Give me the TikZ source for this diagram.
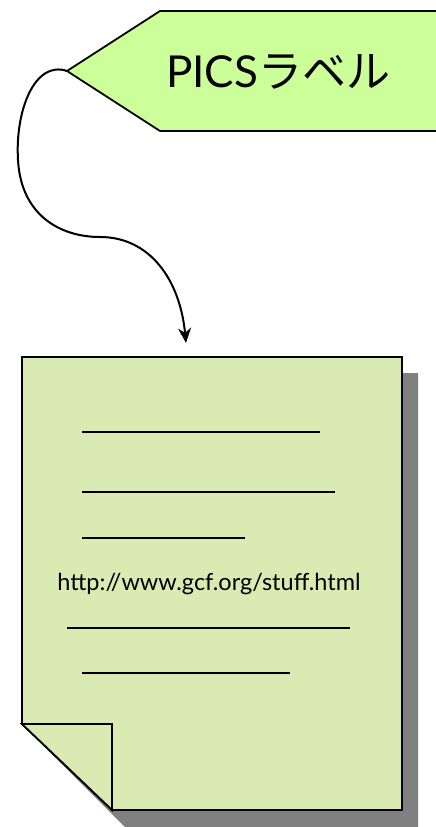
\documentclass[tikz,border=0pt]{standalone}
\usepackage{fontspec}
\usetikzlibrary{arrows.meta}
\setmainfont{Lato}
\newfontfamily\cjk{Noto Sans CJK JP}
\definecolor{labelgreen}{HTML}{CCFF99}
\definecolor{docgreen}{HTML}{D9EAB3}
\definecolor{shadowgray}{HTML}{808080}
\begin{document}
\begin{tikzpicture}[x=1pt,y=-1pt,
  edge/.style={draw=black,line width=1.8pt,line join=miter},
  textline/.style={draw=black,line width=1.6pt},
  conn/.style={draw=black,line width=2pt,-{Stealth[length=15pt,width=13pt]}}]
\useasboundingbox (0,0) rectangle (436,827);
% label
\draw[edge,fill=labelgreen] (440,11) -- (160,11) -- (67,71) -- (160,131) -- (440,131);
\coordinate (tip) at (67,71);
\node[font=\fontsize{44}{48}\selectfont] (lbl) at (278,72) {PICS{\cjk ラベル}};
% shadow
\fill[shadowgray] (38,373) -- (418,373) -- (418,830) -- (128,830) -- (38,740) -- cycle;
% document
\draw[edge,fill=docgreen] (22,357) -- (402,357) -- (402,810) -- (112,810) -- (22,724) -- cycle;
\draw[edge,fill=docgreen] (22,724) -- (112,724) -- (112,810) -- cycle;
\coordinate (doc) at (186,343);
% lines
\draw[textline] (82,432) -- (320,432);
\draw[textline] (82,492) -- (335,492);
\draw[textline] (82,538) -- (245,538);
\node[font=\fontsize{23.5}{26}\selectfont] (url) at (209,584) {http://www.gcf.org/stuff.html};
\draw[textline] (67,628) -- (350,628);
\draw[textline] (82,673) -- (290,673);
% connector
\draw[conn] (tip) .. controls (35,60) and (15,110) .. (18,160)
  .. controls (21,215) and (60,237) .. (100,237)
  .. controls (150,237) and (180,280) .. (doc);
\end{tikzpicture}
\end{document}
